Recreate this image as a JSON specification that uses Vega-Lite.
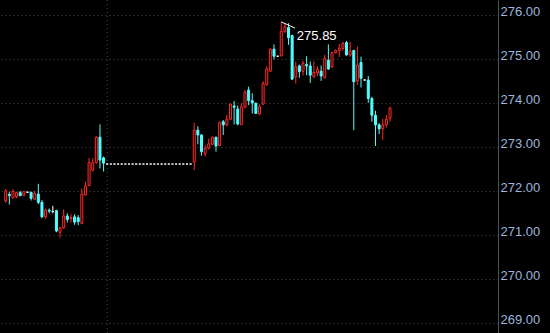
{
  "$schema": "https://vega.github.io/schema/vega-lite/v6.json",
  "width": 498,
  "height": 333,
  "padding": {"left": 0, "top": 0, "bottom": 0, "right": 52},
  "autosize": {"type": "none"},
  "background": "#000000",
  "config": {"view": {"stroke": null}, "font": "Liberation Sans"},
  "datasets": {
    "k": [
      {"i":0,"o":271.78,"h":272.05,"l":271.74,"c":272.01},
      {"i":1,"o":271.93,"h":271.99,"l":271.70,"c":271.90},
      {"i":2,"o":271.85,"h":272.05,"l":271.84,"c":272.00},
      {"i":3,"o":271.88,"h":271.99,"l":271.84,"c":271.97},
      {"i":4,"o":271.97,"h":272.01,"l":271.89,"c":271.90},
      {"i":5,"o":271.91,"h":272.01,"l":271.89,"c":271.99},
      {"i":6,"o":271.98,"h":271.99,"l":271.97,"c":271.98},
      {"i":7,"o":271.98,"h":271.98,"l":271.79,"c":271.84},
      {"i":8,"o":271.82,"h":272.01,"l":271.80,"c":271.95},
      {"i":9,"o":271.94,"h":272.17,"l":271.71,"c":271.75},
      {"i":10,"o":271.75,"h":271.80,"l":271.39,"c":271.42},
      {"i":11,"o":271.42,"h":271.61,"l":271.37,"c":271.57},
      {"i":12,"o":271.57,"h":271.61,"l":271.50,"c":271.55},
      {"i":13,"o":271.54,"h":271.67,"l":271.50,"c":271.54},
      {"i":14,"o":271.56,"h":271.58,"l":271.07,"c":271.10},
      {"i":15,"o":271.07,"h":271.19,"l":270.95,"c":271.17},
      {"i":16,"o":271.17,"h":271.59,"l":271.15,"c":271.44},
      {"i":17,"o":271.44,"h":271.50,"l":271.29,"c":271.36},
      {"i":18,"o":271.38,"h":271.48,"l":271.29,"c":271.40},
      {"i":19,"o":271.42,"h":271.48,"l":271.24,"c":271.30},
      {"i":20,"o":271.40,"h":271.46,"l":271.23,"c":271.31},
      {"i":21,"o":271.27,"h":272.07,"l":271.25,"c":271.94},
      {"i":22,"o":271.92,"h":272.22,"l":271.90,"c":272.12},
      {"i":23,"o":272.13,"h":272.76,"l":272.12,"c":272.65},
      {"i":24,"o":272.48,"h":272.75,"l":272.45,"c":272.65},
      {"i":25,"o":272.65,"h":273.25,"l":272.63,"c":273.23},
      {"i":26,"o":273.23,"h":273.52,"l":272.52,"c":272.71},
      {"i":27,"o":272.76,"h":272.79,"l":272.45,"c":272.64},
      {"i":28,"o":272.62,"h":272.62,"l":272.62,"c":272.62},
      {"i":29,"o":272.62,"h":272.62,"l":272.62,"c":272.62},
      {"i":30,"o":272.62,"h":272.62,"l":272.62,"c":272.62},
      {"i":31,"o":272.62,"h":272.62,"l":272.62,"c":272.62},
      {"i":32,"o":272.62,"h":272.62,"l":272.62,"c":272.62},
      {"i":33,"o":272.62,"h":272.62,"l":272.62,"c":272.62},
      {"i":34,"o":272.62,"h":272.62,"l":272.62,"c":272.62},
      {"i":35,"o":272.62,"h":272.62,"l":272.62,"c":272.62},
      {"i":36,"o":272.62,"h":272.62,"l":272.62,"c":272.62},
      {"i":37,"o":272.62,"h":272.62,"l":272.62,"c":272.62},
      {"i":38,"o":272.62,"h":272.62,"l":272.62,"c":272.62},
      {"i":39,"o":272.62,"h":272.62,"l":272.62,"c":272.62},
      {"i":40,"o":272.62,"h":272.62,"l":272.62,"c":272.62},
      {"i":41,"o":272.62,"h":272.62,"l":272.62,"c":272.62},
      {"i":42,"o":272.62,"h":272.62,"l":272.62,"c":272.62},
      {"i":43,"o":272.62,"h":272.62,"l":272.62,"c":272.62},
      {"i":44,"o":272.62,"h":272.62,"l":272.62,"c":272.62},
      {"i":45,"o":272.62,"h":272.62,"l":272.62,"c":272.62},
      {"i":46,"o":272.62,"h":272.62,"l":272.62,"c":272.62},
      {"i":47,"o":272.62,"h":272.62,"l":272.62,"c":272.62},
      {"i":48,"o":272.62,"h":272.62,"l":272.62,"c":272.62},
      {"i":49,"o":272.62,"h":272.62,"l":272.62,"c":272.62},
      {"i":50,"o":272.62,"h":272.62,"l":272.62,"c":272.62},
      {"i":51,"o":272.62,"h":272.62,"l":272.62,"c":272.62},
      {"i":52,"o":272.67,"h":273.56,"l":272.48,"c":273.39},
      {"i":53,"o":273.39,"h":273.48,"l":273.07,"c":273.28},
      {"i":54,"o":273.28,"h":273.30,"l":272.81,"c":272.90},
      {"i":55,"o":272.86,"h":273.05,"l":272.79,"c":272.98},
      {"i":56,"o":272.98,"h":273.20,"l":272.95,"c":273.08},
      {"i":57,"o":273.07,"h":273.25,"l":273.05,"c":273.23},
      {"i":58,"o":273.23,"h":273.24,"l":272.90,"c":273.03},
      {"i":59,"o":273.04,"h":273.59,"l":273.02,"c":273.56},
      {"i":60,"o":273.58,"h":273.62,"l":273.28,"c":273.51},
      {"i":61,"o":273.51,"h":273.74,"l":273.47,"c":273.64},
      {"i":62,"o":273.64,"h":274.00,"l":273.62,"c":273.98},
      {"i":63,"o":273.94,"h":274.05,"l":273.52,"c":273.91},
      {"i":64,"o":273.87,"h":273.95,"l":273.50,"c":273.53},
      {"i":65,"o":273.52,"h":274.00,"l":273.50,"c":273.92},
      {"i":66,"o":273.92,"h":274.30,"l":273.88,"c":274.25},
      {"i":67,"o":274.30,"h":274.38,"l":273.96,"c":274.06},
      {"i":68,"o":274.06,"h":274.23,"l":273.77,"c":274.01},
      {"i":69,"o":274.00,"h":274.02,"l":273.76,"c":273.77},
      {"i":70,"o":273.76,"h":273.98,"l":273.73,"c":273.92},
      {"i":71,"o":273.98,"h":274.50,"l":273.96,"c":274.45},
      {"i":72,"o":274.43,"h":274.84,"l":274.40,"c":274.78},
      {"i":73,"o":274.73,"h":275.26,"l":274.71,"c":275.23},
      {"i":74,"o":275.23,"h":275.34,"l":275.00,"c":275.07},
      {"i":75,"o":275.07,"h":275.08,"l":275.06,"c":275.07},
      {"i":76,"o":275.08,"h":275.85,"l":275.06,"c":275.64},
      {"i":77,"o":275.63,"h":275.82,"l":275.60,"c":275.74},
      {"i":78,"o":275.72,"h":275.82,"l":275.33,"c":275.49},
      {"i":79,"o":275.54,"h":275.56,"l":274.53,"c":274.55},
      {"i":80,"o":274.60,"h":274.95,"l":274.45,"c":274.83},
      {"i":81,"o":274.85,"h":274.88,"l":274.58,"c":274.72},
      {"i":82,"o":274.73,"h":274.97,"l":274.63,"c":274.91},
      {"i":83,"o":274.88,"h":275.07,"l":274.64,"c":274.85},
      {"i":84,"o":274.85,"h":274.95,"l":274.46,"c":274.64},
      {"i":85,"o":274.60,"h":274.95,"l":274.58,"c":274.70},
      {"i":86,"o":274.69,"h":274.84,"l":274.62,"c":274.77},
      {"i":87,"o":274.73,"h":274.86,"l":274.51,"c":274.62},
      {"i":88,"o":274.58,"h":275.10,"l":274.56,"c":275.02},
      {"i":89,"o":274.98,"h":275.34,"l":274.76,"c":274.78},
      {"i":90,"o":274.83,"h":275.17,"l":274.80,"c":275.15},
      {"i":91,"o":275.15,"h":275.22,"l":275.13,"c":275.20},
      {"i":92,"o":275.20,"h":275.35,"l":275.05,"c":275.25},
      {"i":93,"o":275.25,"h":275.40,"l":275.20,"c":275.36},
      {"i":94,"o":275.38,"h":275.42,"l":275.08,"c":275.10},
      {"i":95,"o":275.10,"h":275.40,"l":275.06,"c":275.19},
      {"i":96,"o":275.20,"h":275.22,"l":273.39,"c":274.49},
      {"i":97,"o":274.51,"h":275.29,"l":274.42,"c":274.87},
      {"i":98,"o":274.93,"h":275.06,"l":274.36,"c":274.57},
      {"i":99,"o":274.53,"h":274.54,"l":274.52,"c":274.53},
      {"i":100,"o":274.53,"h":274.62,"l":274.01,"c":274.11},
      {"i":101,"o":274.11,"h":274.15,"l":273.58,"c":273.73},
      {"i":102,"o":273.73,"h":273.83,"l":273.03,"c":273.51},
      {"i":103,"o":273.51,"h":273.55,"l":273.30,"c":273.42},
      {"i":104,"o":273.42,"h":273.64,"l":273.17,"c":273.51},
      {"i":105,"o":273.51,"h":273.74,"l":273.45,"c":273.64},
      {"i":106,"o":273.66,"h":273.92,"l":273.58,"c":273.89}
    ],
    "sep": [{"i": 28}],
    "note": [{"i": 76, "p": 275.85}, {"i": 79.8, "p": 275.71}],
    "lab": [{"i": 80.3, "p": 275.52, "t": "275.85"}]
  },
  "layer": [
    {
      "data": {"name": "sep"},
      "mark": {"type": "rule", "color": "#4a4a4a", "strokeDash": [1, 3], "strokeWidth": 1},
      "encoding": {
        "x": {"field": "i", "type": "quantitative", "scale": {"domain": [-0.19, 134.4], "nice": false, "zero": false}, "axis": null}
      }
    },
    {
      "data": {"name": "k"},
      "mark": {"type": "rule", "strokeWidth": 1},
      "encoding": {
        "x": {"field": "i", "type": "quantitative", "scale": {"domain": [-0.19, 134.4], "nice": false, "zero": false}, "axis": null},
        "y": {"field": "l", "type": "quantitative",
          "scale": {"domain": [268.78, 276.348], "nice": false, "zero": false},
          "axis": {"orient": "right", "values": [269, 270, 271, 272, 273, 274, 275, 276], "format": ".2f", "title": null,
            "grid": true, "gridColor": "#4a4a4a", "gridDash": [1, 3], "gridWidth": 1,
            "ticks": false, "domain": true, "domainColor": "#505050", "domainWidth": 1,
            "labelColor": "#9fb4de", "labelFont": "Liberation Sans", "labelFontSize": 13,
            "labelAlign": "left", "labelBaseline": "alphabetic", "labelPadding": 2, "labelFlush": false, "labelOverlap": false}},
        "y2": {"field": "h"},
        "color": {"condition": [{"test": "datum.c > datum.o", "value": "#ff2a2a"}, {"test": "datum.c < datum.o", "value": "#54fcfc"}], "value": "#ffffff"}
      }
    },
    {
      "data": {"name": "k"},
      "mark": {"type": "bar", "orient": "vertical", "size": 2, "strokeWidth": 1},
      "encoding": {
        "x": {"field": "i", "type": "quantitative"},
        "y": {"field": "o", "type": "quantitative"},
        "y2": {"field": "c"},
        "stroke": {"condition": [{"test": "datum.c > datum.o", "value": "#ff2a2a"}, {"test": "datum.c < datum.o", "value": "#54fcfc"}], "value": "#ffffff"},
        "fill": {"condition": [{"test": "datum.c > datum.o", "value": "#000000"}, {"test": "datum.c < datum.o", "value": "#54fcfc"}], "value": "#ffffff"}
      }
    },
    {
      "data": {"name": "note"},
      "mark": {"type": "line", "color": "#ffffff", "strokeWidth": 1},
      "encoding": {
        "x": {"field": "i", "type": "quantitative"},
        "y": {"field": "p", "type": "quantitative"}
      }
    },
    {
      "data": {"name": "lab"},
      "mark": {"type": "text", "color": "#ffffff", "align": "left", "baseline": "middle", "font": "Liberation Sans", "fontSize": 13},
      "encoding": {
        "x": {"field": "i", "type": "quantitative"},
        "y": {"field": "p", "type": "quantitative"},
        "text": {"field": "t"}
      }
    }
  ]
}
